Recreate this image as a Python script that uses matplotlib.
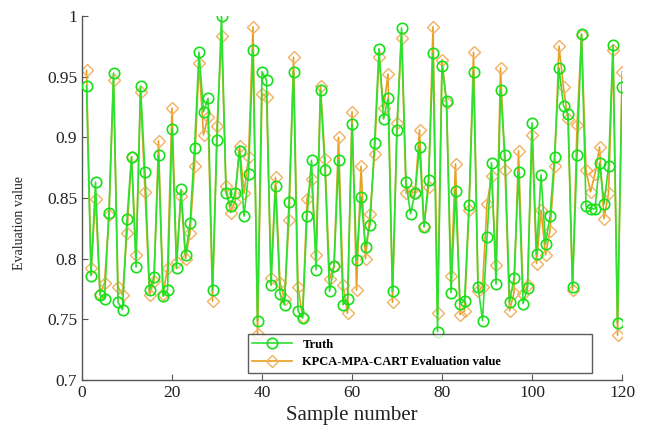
import matplotlib
matplotlib.use("Agg")
import matplotlib.pyplot as plt
from matplotlib.ticker import FuncFormatter

sample = list(range(1, 121))
truth = [
    0.942, 0.786, 0.863, 0.770, 0.767, 0.838, 0.953, 0.764, 0.758, 0.833,
    0.884, 0.793, 0.942, 0.871, 0.774, 0.785, 0.885, 0.769, 0.774, 0.907,
    0.792, 0.857, 0.803, 0.829, 0.891, 0.970, 0.921, 0.932, 0.774, 0.898,
    1.000, 0.854, 0.843, 0.854, 0.889, 0.835, 0.870, 0.972, 0.749, 0.954,
    0.947, 0.778, 0.860, 0.771, 0.762, 0.847, 0.954, 0.757, 0.751, 0.835,
    0.881, 0.791, 0.939, 0.873, 0.773, 0.794, 0.881, 0.762, 0.767, 0.911,
    0.799, 0.851, 0.810, 0.828, 0.895, 0.973, 0.915, 0.932, 0.773, 0.906,
    0.990, 0.863, 0.837, 0.854, 0.892, 0.826, 0.865, 0.969, 0.740, 0.959,
    0.930, 0.772, 0.856, 0.763, 0.765, 0.844, 0.954, 0.777, 0.749, 0.818,
    0.879, 0.779, 0.939, 0.885, 0.764, 0.784, 0.871, 0.763, 0.776, 0.912,
    0.804, 0.869, 0.812, 0.835, 0.884, 0.957, 0.926, 0.919, 0.777, 0.885,
    0.985, 0.843, 0.841, 0.841, 0.879, 0.845, 0.876, 0.976, 0.747, 0.941,
]
predicted = [
    0.955, 0.792, 0.849, 0.771, 0.780, 0.836, 0.947, 0.777, 0.770, 0.821,
    0.884, 0.803, 0.937, 0.855, 0.770, 0.782, 0.897, 0.771, 0.792, 0.924,
    0.797, 0.852, 0.800, 0.821, 0.876, 0.961, 0.902, 0.917, 0.765, 0.909,
    0.983, 0.860, 0.838, 0.847, 0.893, 0.854, 0.884, 0.991, 0.738, 0.936,
    0.933, 0.784, 0.867, 0.780, 0.767, 0.832, 0.966, 0.777, 0.752, 0.849,
    0.866, 0.803, 0.942, 0.882, 0.783, 0.794, 0.900, 0.778, 0.755, 0.921,
    0.774, 0.876, 0.800, 0.837, 0.886, 0.966, 0.924, 0.952, 0.764, 0.912,
    0.982, 0.854, 0.856, 0.854, 0.906, 0.827, 0.859, 0.991, 0.755, 0.964,
    0.928, 0.786, 0.878, 0.754, 0.757, 0.840, 0.970, 0.773, 0.777, 0.845,
    0.868, 0.795, 0.957, 0.873, 0.757, 0.772, 0.889, 0.771, 0.778, 0.902,
    0.796, 0.840, 0.803, 0.823, 0.876, 0.975, 0.941, 0.915, 0.774, 0.910,
    0.984, 0.873, 0.855, 0.870, 0.892, 0.833, 0.854, 0.972, 0.737, 0.954,
]
series_names = ["Truth", "KPCA-MPA-CART Evaluation value"]
x_ticks = [0, 20, 40, 60, 80, 100, 120]
y_ticks = [0.7, 0.75, 0.8, 0.85, 0.9, 0.95, 1.0]

plt.rcParams['font.family'] = ['Liberation Serif', 'DejaVu Serif']

fig = plt.figure(figsize=(6.54, 4.28), dpi=100)
ax = fig.add_axes([0.1254, 0.112, 0.8257, 0.851])

ax.plot(sample, truth, color='#30e030', lw=1.2, marker='o', markersize=7.5,
        markerfacecolor='none', markeredgecolor='#18e018', markeredgewidth=1.2,
        label=series_names[0], zorder=3)
ax.plot(sample, predicted, color='#e8a020', lw=1.2, marker='D', markersize=6,
        markerfacecolor='none', markeredgecolor='#f2b060', markeredgewidth=1.0,
        label=series_names[1], zorder=2)

ax.set_xlim(0, 120)
ax.set_ylim(0.7, 1.0)
ax.set_xticks(x_ticks)
ax.set_yticks(y_ticks)
ax.yaxis.set_major_formatter(FuncFormatter(lambda v, p: f"{v:g}"))
ax.spines['top'].set_visible(False)
ax.spines['right'].set_visible(False)
for s in ('left', 'bottom'):
    ax.spines[s].set_color('#555555')
    ax.spines[s].set_linewidth(1.0)
ax.tick_params(direction='in', length=4, width=0.8, colors='#555555',
               labelcolor='#222222', labelsize=12.5)

ax.set_xlabel("Sample number", fontsize=15, color='#222222', labelpad=4)
ax.set_ylabel("Evaluation value", fontsize=10, color='#222222')
ax.yaxis.set_label_coords(-0.104, 0.43)

leg = ax.legend(loc='lower left', bbox_to_anchor=(0.296, 0.003, 0.66, 0.115),
                mode='expand', frameon=True, fancybox=False,
                handlelength=3.2, borderpad=0.35, labelspacing=0.45,
                prop={'weight': 'bold', 'size': 9})
leg.get_frame().set_edgecolor('#333333')
leg.get_frame().set_linewidth(1.0)

fig.savefig("out.png", dpi=100)
